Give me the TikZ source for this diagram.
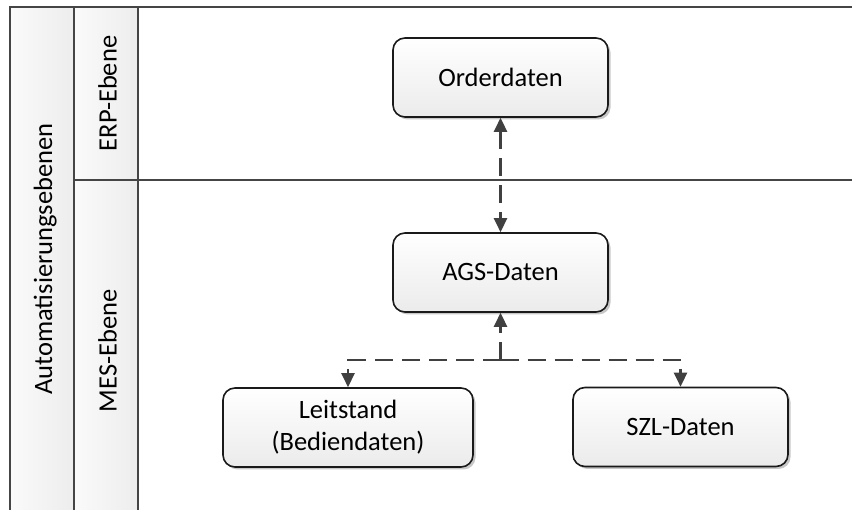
\documentclass[tikz,border=0pt]{standalone}
\usepackage{fontspec}
\setmainfont{Carlito}
\usetikzlibrary{arrows.meta,shadows}
\definecolor{frameline}{HTML}{454545}
\definecolor{flowline}{HTML}{404040}
\definecolor{boxline}{HTML}{1A1A1A}
\definecolor{boxbottom}{HTML}{EBEBEB}
\definecolor{lanedark}{HTML}{EDEDED}
\definecolor{lanelight}{HTML}{FAFAFA}
\begin{document}
\begin{tikzpicture}[x=1pt,y=-1pt,
  every node/.style={font=\fontsize{26.5}{32}\selectfont},
  databox/.style={draw=boxline, line width=1.6pt, rounded corners=12pt,
    top color=white, bottom color=boxbottom,
    minimum width=215pt, minimum height=79pt, align=center, inner sep=0pt,
    drop shadow={shadow xshift=2.5pt, shadow yshift=-2.5pt, opacity=0.22, fill=black}},
  lanefill/.style={left color=lanelight, right color=lanedark},
  frame/.style={draw=frameline, line width=2pt},
  lanelabel/.style={rotate=90, anchor=base, inner sep=0pt},
  flow/.style={draw=flowline, line width=2.6pt, dash pattern=on 18pt off 9pt,
    >={Triangle[length=14pt,width=13pt]}},
]
\useasboundingbox (0,0) rectangle (852,510);

% swimlane header columns
\fill[lanefill] (10,7) rectangle (74,510);
\fill[lanefill] (74,7) rectangle (138,510);
\draw[frame] (10,510) -- (10,7) -- (853,7);
\draw[frame] (74,7) -- (74,510);
\draw[frame] (138,7) -- (138,510);
\draw[frame] (74,180) -- (853,180);

\node[lanelabel] (ebenen) at (52,259) {Automatisierungsebenen};
\node[lanelabel] (erp) at (116.5,93.5) {ERP-Ebene};
\node[lanelabel] (mes) at (116.5,351) {MES-Ebene};

% data boxes
\node[databox] (order) at (500.5,77.5) {Orderdaten};
\node[databox] (ags) at (500.5,272.5) {AGS-Daten};
\node[databox, minimum width=250pt] (leit) at (348,427.5) {Leitstand\\(Bediendaten)};
\node[databox] (szl) at (680.5,427) {SZL-Daten};

% data flows
\coordinate (split) at (500.5,360);
\draw[flow,<->] (order.south) -- (ags.north);
\draw[flow,->] (split) -- (ags.south);
\draw[flow,->] (split) -| (leit.north);
\draw[flow,->] (split) -| (szl.north);
\end{tikzpicture}
\end{document}
